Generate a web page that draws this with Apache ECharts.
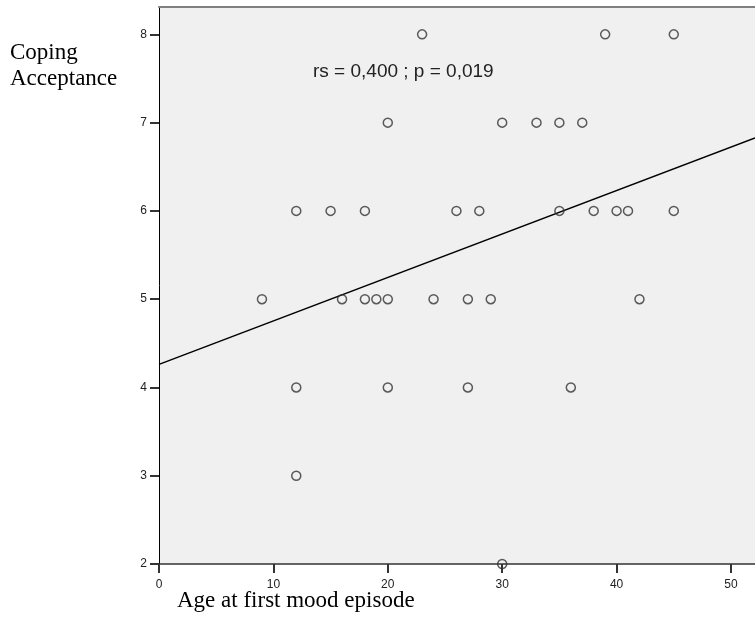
<!DOCTYPE html>
<html>
<head>
<meta charset="utf-8">
<script src="https://cdn.jsdelivr.net/npm/echarts@6/dist/echarts.min.js"></script>
<style>
  html, body { margin: 0; padding: 0; background: #fff; }
  #charts { width: 755px; height: 625px; }
</style>
</head>
<body>
<div id="charts"></div>
<script>
// age at first mood episode (x) and coping acceptance score (y), one entry per patient
var ages   = [23, 39, 45,
              20, 30, 33, 35, 37,
              12, 15, 18, 26, 28, 35, 38, 40, 41, 45,
              9, 16, 18, 19, 20, 24, 27, 29, 42,
              12, 20, 27, 36,
              12,
              30];
var scores = [8, 8, 8,
              7, 7, 7, 7, 7,
              6, 6, 6, 6, 6, 6, 6, 6, 6, 6,
              5, 5, 5, 5, 5, 5, 5, 5, 5,
              4, 4, 4, 4,
              3,
              2];
var xTicks = [0, 10, 20, 30, 40, 50];
var yTicks = [2, 3, 4, 5, 6, 7, 8];
var statText = 'rs = 0,400 ; p = 0,019';

var xMax = 52.1;
var yMax = 8.31;

// least squares fit line
var n = ages.length, sx = 0, sy = 0, sxy = 0, sxx = 0;
for (var i = 0; i < n; i++) {
    sx += ages[i]; sy += scores[i];
    sxy += ages[i] * scores[i]; sxx += ages[i] * ages[i];
}
var slope = (sxy - sx * sy / n) / (sxx - sx * sx / n);
var icpt = sy / n - slope * sx / n;
var fitLine = [[0, icpt], [xMax, icpt + slope * xMax]];

var points = ages.map(function (a, i) { return [a, scores[i]]; });

var myChart = echarts.init(document.getElementById('charts'));

var option = {
    backgroundColor: '#fff',
    animation: false,
    grid: {
        left: 159, top: 7, right: 0, bottom: 61,
        show: true, backgroundColor: '#f0f0f0', borderWidth: 0
    },
    xAxis: [{
        type: 'value',
        min: 0, max: xMax, interval: 10,
        axisLine: { lineStyle: { color: '#333', width: 1.5 } },
        axisTick: { inside: false, length: 9, customValues: xTicks, lineStyle: { color: '#333', width: 2 } },
        axisLabel: {
            margin: 15, color: '#222', fontSize: 12, fontFamily: 'Liberation Sans',
            customValues: xTicks
        },
        splitLine: { show: false }
    }, {
        type: 'value', position: 'top',
        min: 0, max: xMax,
        axisLine: { show: true, lineStyle: { color: '#808080', width: 2 } },
        axisTick: { show: false }, axisLabel: { show: false }, splitLine: { show: false }
    }],
    yAxis: {
        type: 'value',
        min: 2, max: yMax, interval: 1,
        axisLine: { show: true, lineStyle: { color: '#000', width: 1 } },
        axisTick: { show: true, length: 9, customValues: yTicks, lineStyle: { color: '#333', width: 2 } },
        axisLabel: {
            margin: 12, color: '#222', fontSize: 12, fontFamily: 'Liberation Sans',
            customValues: yTicks
        },
        splitLine: { show: false }
    },
    series: [{
        type: 'line',
        data: fitLine,
        symbol: 'none',
        lineStyle: { color: '#000', width: 1.5 },
        z: 2
    }, {
        type: 'scatter',
        data: points,
        symbol: 'circle',
        symbolSize: 9,
        itemStyle: { color: 'rgba(0,0,0,0)', borderColor: '#333', borderWidth: 1.5 },
        z: 3
    }],
    graphic: [{
        type: 'text', left: 10, top: 40,
        style: {
            text: 'Coping\nAcceptance', fill: '#000',
            font: '23px "Liberation Serif"', lineHeight: 26
        }
    }, {
        type: 'text', left: 177, top: 589,
        style: {
            text: 'Age at first mood episode', fill: '#000',
            font: '23px "Liberation Serif"'
        }
    }, {
        type: 'text', left: 313, top: 62,
        style: {
            text: statText, fill: '#222',
            font: '19px "Liberation Sans"'
        }
    }]
};
myChart.setOption(option);
</script>
</body>
</html>
